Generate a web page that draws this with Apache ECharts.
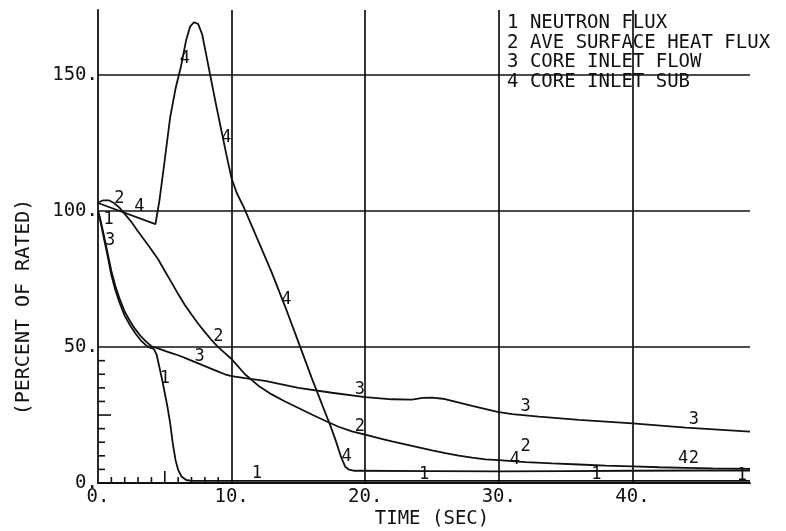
<!DOCTYPE html>
<html>
<head>
<meta charset="utf-8">
<title>Transient response</title>
<script src="https://cdn.jsdelivr.net/npm/echarts@6/dist/echarts.min.js"></script>
<style>
  html, body { margin: 0; padding: 0; background: #ffffff; }
  #chart { width: 786px; height: 531px; }
</style>
</head>
<body>
<div id="chart"></div>
<script>
// Series names, in plot order
const seriesNames = ['NEUTRON FLUX', 'AVE SURFACE HEAT FLUX', 'CORE INLET FLOW', 'CORE INLET SUB'];

// 1 - neutron flux (percent of rated) vs time (sec)
const time1 = [0, 0.15, 0.4, 0.7, 1.0, 1.3, 1.6, 2.0, 2.4, 2.8, 3.2, 3.6, 3.9, 4.2, 4.4, 4.6, 4.8, 5.0, 5.2, 5.4, 5.6, 5.8, 6.0, 6.25, 6.6, 7.0, 8.0, 10, 15, 20, 25, 30, 35, 40, 45, 48.8];
const neutronFlux = [100, 97, 91, 84, 76.5, 71, 66.5, 61.5, 58, 55, 52.5, 50.6, 49.8, 49.2, 47, 42.5, 38, 33, 28, 22, 14.5, 8.5, 4.8, 2.4, 1.1, 0.8, 0.8, 0.8, 0.8, 0.8, 0.8, 0.8, 0.8, 0.8, 0.8, 0.8];

// 2 - average surface heat flux
const time2 = [0, 0.4, 0.8, 1.2, 1.6, 2.0, 2.5, 3.0, 3.5, 4.0, 4.5, 5.0, 5.5, 6.0, 6.5, 7.0, 7.5, 8.0, 8.5, 9.0, 9.5, 10, 11, 12, 13, 14, 15, 16, 17, 18, 19, 20, 21, 22, 23, 24, 25, 26, 27, 28, 29, 30, 32, 34, 36, 38, 40, 42, 44, 46, 48.8];
const heatFlux = [103.2, 104, 104, 103, 101.3, 99, 96, 92.5, 89.2, 85.8, 82.3, 78, 73.8, 69.5, 65.5, 62, 58.6, 55.5, 52.6, 50, 47.8, 45.6, 40, 35.8, 32.6, 30, 27.6, 25.2, 22.9, 20.7, 19, 17.8, 16.5, 15.3, 14.2, 13.1, 12, 11, 10.1, 9.3, 8.7, 8.4, 7.7, 7.2, 6.8, 6.4, 6.1, 5.8, 5.6, 5.4, 5.2];

// 3 - core inlet flow
const time3 = [0, 0.15, 0.4, 0.7, 1.0, 1.3, 1.6, 2.0, 2.4, 2.8, 3.2, 3.6, 4.0, 4.5, 5.0, 5.5, 6.0, 6.5, 7.0, 7.5, 8.0, 8.5, 9.0, 9.5, 10.0, 11, 12.5, 15, 17.5, 20, 22, 23.5, 24.3, 25, 25.8, 26.5, 28, 29.9, 31, 33, 36, 40, 44, 48.8];
const inletFlow = [100, 97.5, 92, 85, 78, 72.5, 68, 63, 59.5, 56.5, 54, 52, 50.3, 49.5, 48.6, 47.8, 47, 46, 45, 44, 43, 42, 41, 40, 39.3, 38.6, 37.6, 35, 33.2, 31.6, 30.8, 30.7, 31.3, 31.4, 31, 30.2, 28.4, 26.2, 25.3, 24.4, 23.2, 21.9, 20.4, 18.9];

// 4 - core inlet subcooling
const time4 = [0, 4.3, 4.6, 5.0, 5.4, 5.8, 6.2, 6.6, 6.9, 7.2, 7.5, 7.8, 8.1, 8.4, 8.8, 9.2, 9.6, 10.0, 10.4, 10.9, 12, 13, 14, 15, 16, 17, 17.4, 17.8, 18.2, 18.5, 18.8, 19.2, 25, 30, 35, 40, 45, 48.8];
const inletSub = [103, 95.2, 104, 119, 134.5, 145, 153, 163, 168, 169.5, 168.8, 165, 157.5, 150, 140, 130.5, 121, 112, 106.5, 101.6, 89, 77.5, 65, 51.8, 38.6, 26, 21, 15.5, 9.5, 6, 4.9, 4.5, 4.4, 4.3, 4.4, 4.5, 4.6, 4.6];

// Curve identification numbers written along each curve
const tag1Time = [0.8, 5.0, 11.9, 24.4, 37.3, 48.2];
const tag1Value = [97, 38.5, 3.6, 3, 3, 2.6];
const tag2Time = [1.6, 9.0, 19.6, 32.0, 44.6];
const tag2Value = [104.7, 53.8, 20.7, 13.3, 9.0];
const tag3Time = [0.9, 7.6, 19.6, 32.0, 44.6];
const tag3Value = [89, 46.4, 34.2, 28.0, 23.2];
const tag4Time = [3.1, 6.5, 9.6, 14.1, 18.6, 31.2, 43.8];
const tag4Value = [101.6, 156, 127, 67.3, 9.7, 8.5, 9.0];

// Axis extents, grid lines and short ticks in the first division
const timeMax = 48.8;
const valueMax = 174;
const gridTimes = [10, 20, 30, 40];
const gridValues = [50, 100, 150];
const minorTimes = [1, 2, 3, 4, 5, 6, 7, 8, 9];
const minorValues = [5, 10, 15, 20, 25, 30, 35, 40, 45];

const INK = '#111111';
const MONO = '"DejaVu Sans Mono", "Liberation Mono", monospace';

const zip = (xs, ys) => xs.map((x, i) => [x, ys[i]]);

function curve(name, xs, ys) {
  return {
    name: name,
    type: 'line',
    data: zip(xs, ys),
    showSymbol: false,
    symbol: 'none',
    smooth: false,
    lineStyle: { color: INK, width: 1.8 },
    itemStyle: { color: INK },
    silent: true,
    z: 3
  };
}

// curve number drawn as text centred on a point of the curve
function tags(num, xs, ys) {
  return {
    type: 'custom',
    silent: true,
    z: 4,
    data: zip(xs, ys),
    renderItem: (params, api) => {
      const p = api.coord([api.value(0), api.value(1)]);
      return {
        type: 'text',
        x: p[0],
        y: p[1],
        style: {
          text: String(num),
          font: '17px ' + MONO,
          fill: INK,
          textAlign: 'center',
          textVerticalAlign: 'middle'
        }
      };
    }
  };
}

const chart = echarts.init(document.getElementById('chart'), null, { renderer: 'canvas' });

const heatFluxSeries = curve(seriesNames[1], time2, heatFlux);
heatFluxSeries.markLine = {
  silent: true,
  symbol: ['none', 'none'],
  label: { show: false },
  lineStyle: { color: INK, width: 1.7, type: 'solid' },
  emphasis: { disabled: true },
  data: gridTimes.map(v => ({ xAxis: v })).concat(gridValues.map(v => ({ yAxis: v })))
};

chart.setOption({
  animation: false,
  backgroundColor: '#ffffff',
  grid: { left: 98, right: 36, top: 10, bottom: 48 },
  xAxis: {
    type: 'value',
    min: 0,
    max: timeMax,
    interval: 10,
    axisLine: { show: true, lineStyle: { color: INK, width: 1.8 } },
    axisTick: { show: false },
    splitLine: { show: false },
    axisLabel: {
      color: INK,
      fontFamily: MONO,
      fontSize: 19,
      margin: 5,
      showMaxLabel: false,
      formatter: v => (v % 10 === 0 ? v + '.' : '')
    }
  },
  yAxis: {
    type: 'value',
    min: 0,
    max: valueMax,
    interval: 50,
    axisLine: { show: true, lineStyle: { color: INK, width: 1.8 } },
    axisTick: { show: false },
    splitLine: { show: false },
    axisLabel: {
      color: INK,
      fontFamily: MONO,
      fontSize: 19,
      margin: 0,
      showMaxLabel: false,
      formatter: v => (v % 50 === 0 ? v + '.' : '')
    }
  },
  series: [
    curve(seriesNames[0], time1, neutronFlux),
    heatFluxSeries,
    curve(seriesNames[2], time3, inletFlow),
    curve(seriesNames[3], time4, inletSub),
    tags(1, tag1Time, tag1Value),
    tags(2, tag2Time, tag2Value),
    tags(3, tag3Time, tag3Value),
    tags(4, tag4Time, tag4Value),
    {
      // short inward ticks along the time axis, first division only
      type: 'custom',
      silent: true,
      data: minorTimes.map(v => [v, 0]),
      renderItem: (params, api) => {
        const v = api.value(0);
        const p = api.coord([v, 0]);
        const len = v === 5 ? 12 : 6;
        return {
          type: 'line',
          shape: { x1: p[0], y1: p[1], x2: p[0], y2: p[1] - len },
          style: { stroke: INK, lineWidth: 1.6 }
        };
      }
    },
    {
      // short inward ticks along the value axis, first division only
      type: 'custom',
      silent: true,
      data: minorValues.map(v => [0, v]),
      renderItem: (params, api) => {
        const v = api.value(1);
        const p = api.coord([0, v]);
        const len = v === 25 ? 13 : 7;
        return {
          type: 'line',
          shape: { x1: p[0], y1: p[1], x2: p[0] + len, y2: p[1] },
          style: { stroke: INK, lineWidth: 1.6 }
        };
      }
    }
  ],
  graphic: [
    {
      type: 'text',
      x: 24,
      y: 307,
      rotation: Math.PI / 2,
      silent: true,
      style: {
        text: '(PERCENT OF RATED)',
        font: '20px ' + MONO,
        fill: INK,
        textAlign: 'center',
        textVerticalAlign: 'middle'
      }
    },
    {
      type: 'text',
      x: 432,
      y: 519,
      silent: true,
      style: {
        text: 'TIME (SEC)',
        font: '19px ' + MONO,
        fill: INK,
        textAlign: 'center',
        textVerticalAlign: 'middle'
      }
    }
  ].concat(seriesNames.map((name, i) => ({
    type: 'text',
    x: 507,
    y: 23 + i * 19.7,
    silent: true,
    style: {
      text: (i + 1) + ' ' + name,
      font: '19px ' + MONO,
      fill: INK,
      textAlign: 'left',
      textVerticalAlign: 'middle'
    }
  })))
});
</script>
</body>
</html>
